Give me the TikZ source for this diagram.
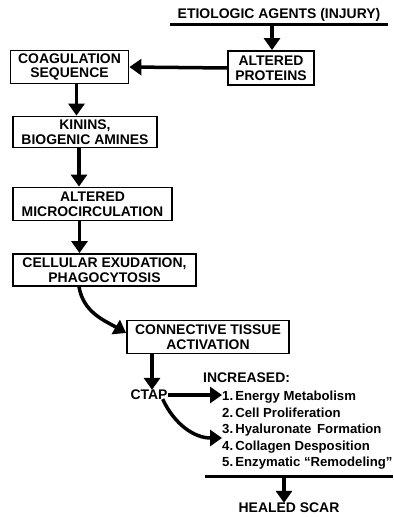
\documentclass[tikz,border=0pt]{standalone}
\usepackage{fontspec}
\setmainfont{Liberation Sans}
\usetikzlibrary{arrows.meta}
\newcommand{\nsp}{\hspace{2.2bp}}
\begin{document}
\begin{tikzpicture}[x=1bp,y=-1bp,
  box/.style={draw,line width=1.8bp,inner sep=0pt,align=center,
    font=\fontsize{14}{15}\selectfont\bfseries},
  lbl/.style={inner sep=0pt,font=\fontsize{14}{15}\selectfont\bfseries},
  item/.style={inner sep=0pt,anchor=base west,font=\fontsize{13.2}{15}\selectfont\bfseries},
  arr/.style={line width=3.5bp,-{Triangle[length=12bp,width=16bp]}},
  bar/.style={line width=3bp}]
\useasboundingbox (0,0) rectangle (393,517);

% top heading and bar
\node[lbl] (etio) at (279,15) {ETIOLOGIC AGENTS (INJURY)};
\coordinate (tl) at (170,25);
\coordinate (tr) at (388,25);
\draw[bar] (tl) -- (tr);
\coordinate (ta) at (272,25);

% boxes
\node[box,minimum width=86bp,minimum height=34bp] (prot) at (271,68) {ALTERED\\PROTEINS};
\node[box,minimum width=118bp,minimum height=33bp] (coag) at (69.5,67) {COAGULATION\\SEQUENCE};
\node[box,minimum width=144bp,minimum height=31bp] (kin) at (85,132) {KININS,\\BIOGENIC AMINES};
\node[box,minimum width=159bp,minimum height=33bp] (micro) at (92.5,204) {ALTERED\\MICROCIRCULATION};
\node[box,minimum width=183bp,minimum height=32bp] (cell) at (104.5,270) {CELLULAR EXUDATION,\\PHAGOCYTOSIS};
\node[box,minimum width=162bp,minimum height=33bp] (cta) at (208,337) {CONNECTIVE TISSUE\\ACTIVATION};

% CTAP and list
\node[lbl] (ctap) at (149,395) {CTAP};
\node[lbl,anchor=west] (inc) at (203,378) {INCREASED:};
\node[item] (i1) at (222,400) {1.\nsp Energy Metabolism};
\node[item] (i2) at (222,417) {2.\nsp Cell Proliferation};
\node[item] (i3) at (222,433) {3.\nsp Hyaluronate\, Formation};
\node[item] (i4) at (222,450) {4.\nsp Collagen Desposition};
\node[item] (i5) at (222,466) {5.\nsp Enzymatic ``Remodeling''};

% bottom bar and result
\coordinate (bl) at (205,476);
\coordinate (br) at (393,476);
\draw[bar] (bl) -- (br);
\coordinate (ba) at (284,476);
\node[lbl] (heal) at (289,508) {HEALED SCAR};

% vertical positions of arrows
\coordinate (c1) at (76.5,0);
\coordinate (c2) at (79,0);
\coordinate (c3) at (79.5,0);
\coordinate (c5) at (152,0);

% connectors
\draw[arr] (ta) -- (prot.north -| ta);
\draw[arr] (prot.west) -- (coag.east);
\draw[arr] (coag.south -| c1) -- (kin.north -| c1);
\draw[arr] (kin.south -| c2) -- (micro.north -| c2);
\draw[arr] (micro.south -| c3) -- (cell.north -| c3);
\draw[arr] (cell.south -| c2) to[out=-80,in=150] ([yshift=4bp]cta.west);
\draw[arr] (cta.south -| c5) -- (ctap.north -| c5);
\draw[arr] (ctap.east) -- (ctap.east -| i1.west);
\draw[arr] ([xshift=-5bp,yshift=1bp]ctap.south east) to[out=-65,in=180] ([yshift=-5bp]i3.base west);
\draw[arr] (ba) -- (heal.north -| ba);
\end{tikzpicture}
\end{document}
